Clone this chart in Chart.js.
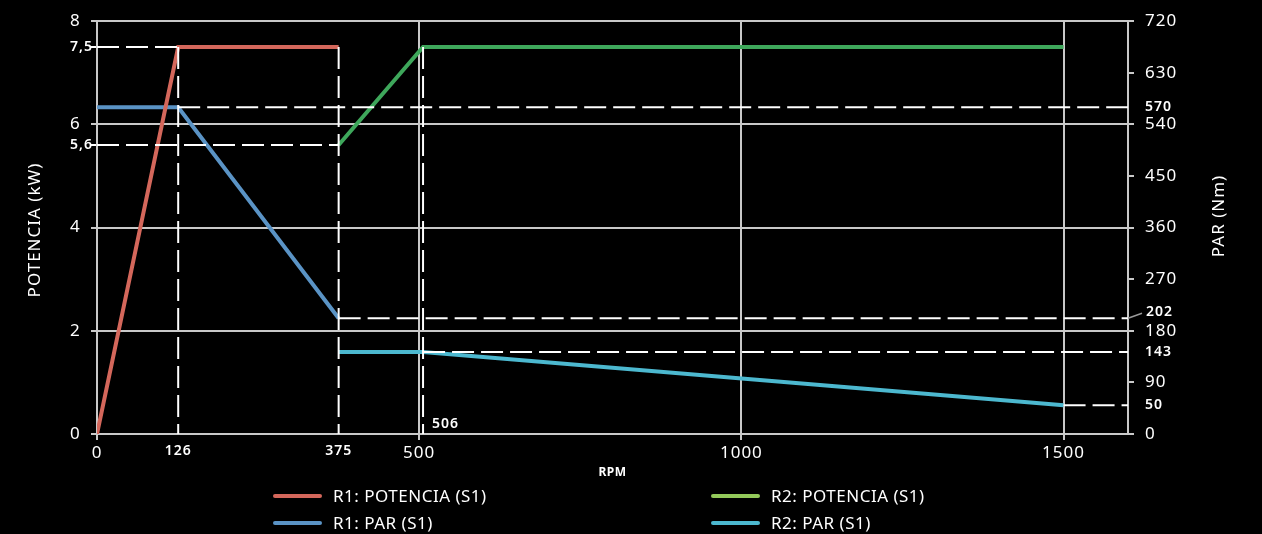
<!DOCTYPE html>
<html>
<head>
<meta charset="utf-8">
<script src="https://cdn.jsdelivr.net/npm/chart.js@4.4.1/dist/chart.umd.min.js"></script>
<style>
  html, body { margin: 0; padding: 0; background: #000; }
  #wrap { position: relative; width: 1262px; height: 534px; }
  canvas { display: block; }
  #legend { position: absolute; left: 0; top: 0; width: 1262px; height: 534px; pointer-events: none; }
  .item { position: absolute; display: flex; align-items: center; color: #fff;
          font-family: "Noto Sans", sans-serif; font-size: 17px; letter-spacing: 0.5px;
          line-height: 20px; height: 20px; }
  .sw { width: 49px; height: 4px; border-radius: 2px; margin-right: 11px; }
</style>
</head>
<body>
<div id="wrap">
  <canvas id="c" width="1262" height="534"></canvas>
  <div id="legend"></div>
</div>
<script>
// Curves: speed (RPM) against power (kW, left axis) and torque (Nm, right axis)
const r1PotenciaRpm = [0, 126, 375];
const r1PotenciaKw  = [0, 7.5, 7.5];
const r1ParRpm      = [0, 126, 375];
const r1ParNm       = [570, 570, 202];
const r2PotenciaRpm = [375, 506, 1500];
const r2PotenciaKw  = [5.6, 7.5, 7.5];
const r2ParRpm      = [375, 506, 1500];
const r2ParNm       = [143, 143, 50];

const seriesLabels  = ['R1: POTENCIA (S1)', 'R1: PAR (S1)', 'R2: POTENCIA (S1)', 'R2: PAR (S1)'];
const seriesColors  = ['#d4675b', '#5a93c5', '#3ea75b', '#4cb8cf'];
const legendColors  = ['#d4675b', '#5a93c5', '#93c95a', '#4cb8cf'];

// Tick values; the "marked" ones are the operating points, shown smaller
const rpmTicks  = [0, 126, 375, 500, 1000, 1500];
const rpmMarked = [126, 375];
const rpmGrid   = [500, 1000, 1500];
const kwTicks   = [0, 2, 4, 5.6, 6, 7.5, 8];
const kwMarked  = [5.6, 7.5];
const nmTicks   = [0, 50, 90, 143, 180, 202, 270, 360, 450, 540, 570, 630, 720];
const nmMarked  = [50, 143, 202, 570];

// Dashed guide lines through the operating points: [rpm from, rpm to, value from, value to]
const kwGuides = [
  [0, 126, 7.5, 7.5],
  [0, 375, 5.6, 5.6],
  [126, 126, 7.5, 0],
  [375, 375, 7.5, 0],
  [506, 506, 7.5, 0]
];
const nmGuides = [
  [126, 1600, 570, 570],
  [375, 1600, 202, 202],
  [506, 1600, 143, 143],
  [1500, 1600, 50, 50]
];

const FONT = '"Noto Sans", sans-serif';
const AXIS = '#c9c9c9';

const pts = (xs, ys) => xs.map((x, i) => ({ x: x, y: ys[i] }));
const tv = c => (c && c.tick) ? c.tick.value : null;

const guideSets = [];
kwGuides.forEach(g => guideSets.push({ g: g, axis: 'yKw' }));
nmGuides.forEach(g => guideSets.push({ g: g, axis: 'yNm' }));

const datasets = [
  ...guideSets.map(s => ({
    label: '', yAxisID: s.axis,
    data: [{ x: s.g[0], y: s.g[2] }, { x: s.g[1], y: s.g[3] }],
    borderColor: '#ffffff', borderWidth: 2, borderDash: [22, 7],
    pointRadius: 0, order: 0
  })),
  { label: seriesLabels[0], yAxisID: 'yKw', data: pts(r1PotenciaRpm, r1PotenciaKw), borderColor: seriesColors[0] },
  { label: seriesLabels[1], yAxisID: 'yNm', data: pts(r1ParRpm, r1ParNm), borderColor: seriesColors[1] },
  { label: seriesLabels[2], yAxisID: 'yKw', data: pts(r2PotenciaRpm, r2PotenciaKw), borderColor: seriesColors[2] },
  { label: seriesLabels[3], yAxisID: 'yNm', data: pts(r2ParRpm, r2ParNm), borderColor: seriesColors[3] }
].map(d => Object.assign({ borderWidth: 4, pointRadius: 0, order: 1, tension: 0,
                            borderCapStyle: 'butt', borderJoinStyle: 'miter', fill: false }, d));

const markedFont = { family: FONT, size: 14, weight: '600' };
const plainFont  = { family: FONT, size: 17, weight: '400' };

// Slightly wider tracking for all canvas text
const tracking = {
  id: 'tracking',
  beforeUpdate(chart) { chart.ctx.letterSpacing = '1px'; },
  beforeDraw(chart) { chart.ctx.letterSpacing = '1px'; }
};

// Extra text: axis titles, the 202 leader and the 506 marker
const annotations = {
  id: 'annotations',
  afterDraw(chart) {
    const ctx = chart.ctx;
    const area = chart.chartArea;
    const x = chart.scales.x, yNm = chart.scales.yNm;
    ctx.save();
    ctx.fillStyle = '#ffffff';
    ctx.textBaseline = 'middle';

    ctx.font = '400 17px ' + FONT;
    ctx.letterSpacing = '1px';
    ctx.textAlign = 'center';
    ctx.save();
    ctx.translate(35, 230);
    ctx.rotate(-Math.PI / 2);
    ctx.fillText('POTENCIA (kW)', 0, 0);
    ctx.restore();
    ctx.save();
    ctx.translate(1219, 216);
    ctx.rotate(-Math.PI / 2);
    ctx.fillText('PAR (Nm)', 0, 0);
    ctx.restore();

    ctx.font = '700 12px ' + FONT;
    ctx.letterSpacing = '0.5px';
    ctx.fillText('RPM', (area.left + area.right) / 2, 473);

    // 202 label sits a little above its guide, joined by a short leader
    const y202 = yNm.getPixelForValue(202);
    ctx.strokeStyle = '#9a9a9a';
    ctx.lineWidth = 1.5;
    ctx.beginPath();
    ctx.moveTo(area.right, y202);
    ctx.lineTo(area.right + 14, y202 - 5);
    ctx.stroke();
    ctx.font = markedFont.weight + ' ' + markedFont.size + 'px ' + FONT;
    ctx.letterSpacing = '1px';
    ctx.textAlign = 'left';
    ctx.fillText('202', area.right + 18, y202 - 6);

    // 506 marker next to its vertical guide
    ctx.fillText('506', x.getPixelForValue(506) + 9, area.bottom - 10);
    ctx.restore();
  }
};

const chart = new Chart(document.getElementById('c'), {
  type: 'line',
  data: { datasets: datasets },
  plugins: [tracking, annotations],
  options: {
    responsive: false,
    animation: false,
    events: [],
    layout: { padding: { left: 70, right: 64, top: 20, bottom: 0 } },
    plugins: { legend: { display: false }, tooltip: { enabled: false } },
    scales: {
      x: {
        type: 'linear', min: 0, max: 1600,
        afterBuildTicks: s => { s.ticks = rpmTicks.map(v => ({ value: v })); },
        afterFit: s => { s.height = 100; },
        border: { color: AXIS, width: 2 },
        grid: {
          lineWidth: 2, tickLength: 6,
          color: c => rpmGrid.includes(tv(c)) ? AXIS : 'transparent',
          tickColor: c => rpmMarked.includes(tv(c)) ? 'transparent' : AXIS
        },
        ticks: {
          autoSkip: false, maxRotation: 0, padding: 3, color: '#ffffff',
          font: c => rpmMarked.includes(tv(c)) ? markedFont : plainFont,
          callback: v => String(v)
        }
      },
      yKw: {
        type: 'linear', position: 'left', min: 0, max: 8,
        afterBuildTicks: s => { s.ticks = kwTicks.map(v => ({ value: v })); },
        afterFit: s => { s.width = 27; },
        border: { color: AXIS, width: 2 },
        grid: {
          lineWidth: 2, tickLength: 6,
          color: c => (kwMarked.includes(tv(c)) || tv(c) === 0) ? 'transparent' : AXIS,
          tickColor: c => kwMarked.includes(tv(c)) ? '#ffffff' : AXIS
        },
        ticks: {
          autoSkip: false, crossAlign: 'far', padding: 8, color: '#ffffff',
          font: c => kwMarked.includes(tv(c)) ? markedFont : plainFont,
          callback: v => String(v).replace('.', ',')
        }
      },
      yNm: {
        type: 'linear', position: 'right', min: 0, max: 720,
        afterBuildTicks: s => { s.ticks = nmTicks.map(v => ({ value: v })); },
        afterFit: s => { s.width = 70; },
        border: { color: AXIS, width: 2 },
        grid: {
          drawOnChartArea: false, lineWidth: 2, tickLength: 6,
          tickColor: c => nmMarked.includes(tv(c)) ? 'transparent' : AXIS
        },
        ticks: {
          autoSkip: false, padding: 11, color: '#ffffff',
          font: c => nmMarked.includes(tv(c)) ? markedFont : plainFont,
          callback: v => v === 202 ? '' : String(v)
        }
      }
    }
  }
});

// Legend in two columns, built from the plotted series
const legendPos = [[273, 486], [273, 513], [711, 486], [711, 513]];
const legendEl = document.getElementById('legend');
seriesLabels.forEach((lab, i) => {
  const item = document.createElement('div');
  item.className = 'item';
  item.style.left = legendPos[i][0] + 'px';
  item.style.top = legendPos[i][1] + 'px';
  const sw = document.createElement('span');
  sw.className = 'sw';
  sw.style.background = legendColors[i];
  const tx = document.createElement('span');
  tx.textContent = lab;
  item.appendChild(sw);
  item.appendChild(tx);
  legendEl.appendChild(item);
});
</script>
</body>
</html>
